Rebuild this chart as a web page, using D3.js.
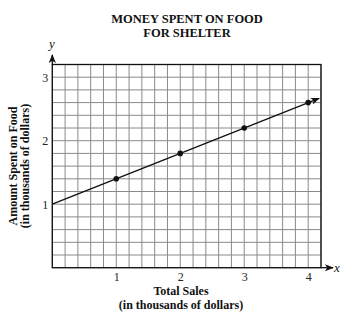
<!DOCTYPE html>
<html><head><meta charset="utf-8">
<script src="https://cdn.jsdelivr.net/npm/d3@7"></script>
<style>
html,body{margin:0;padding:0;background:#fff;}
svg{display:block;font-family:"Liberation Serif","Times New Roman",serif;}
</style>
</head><body>
<script>
const titleLines = ["MONEY SPENT ON FOOD", "FOR SHELTER"];
const xTitleLines = ["Total Sales", "(in thousands of dollars)"];
const yTitleLines = ["Amount Spent on Food", "(in thousands of dollars)"];
const xTicks = [1, 2, 3, 4];
const yTicks = [1, 2, 3];
const pointX = [1, 2, 3, 4];
const pointY = [1.4, 1.8, 2.2, 2.6];
const lineX = [0, 4.17];
const lineY = [1.0, 2.668];
const xMax = 4.2, yMax = 3.2, step = 0.2;

const W = 344, H = 312;
const svg = d3.select("body").append("svg").attr("width", W).attr("height", H);
const x = d3.scaleLinear().domain([0, xMax]).range([52.3, 321]);
const y = d3.scaleLinear().domain([0, yMax]).range([267.7, 64.5]);

// grid
const gx = d3.range(0, Math.round(xMax/step) + 1).map(i => i*step);
const gy = d3.range(0, Math.round(yMax/step) + 1).map(i => i*step);
svg.append("g").selectAll("line").data(gx).join("line")
  .attr("x1", d => x(d)).attr("x2", d => x(d))
  .attr("y1", y(0)).attr("y2", y(yMax))
  .attr("stroke", "#8a8a8a").attr("stroke-width", 1);
svg.append("g").selectAll("line").data(gy).join("line")
  .attr("y1", d => y(d)).attr("y2", d => y(d))
  .attr("x1", x(0)).attr("x2", x(xMax))
  .attr("stroke", "#8a8a8a").attr("stroke-width", 1);
svg.append("rect").attr("x", x(0)).attr("y", y(yMax))
  .attr("width", x(xMax) - x(0)).attr("height", y(0) - y(yMax))
  .attr("fill", "none").attr("stroke", "#111").attr("stroke-width", 1.3);

// arrows
const defs = svg.append("defs");
defs.append("marker").attr("id", "ah").attr("viewBox", "0 0 10 10")
  .attr("refX", 9).attr("refY", 5).attr("markerWidth", 9).attr("markerHeight", 9)
  .attr("markerUnits", "userSpaceOnUse").attr("orient", "auto")
  .append("path").attr("d", "M0,1 L10,5 L0,9 L2.5,5 Z").attr("fill", "#111");
svg.append("line").attr("x1", x(0)).attr("x2", x(0)).attr("y1", y(yMax)).attr("y2", 55)
  .attr("stroke", "#111").attr("stroke-width", 1.3).attr("marker-end", "url(#ah)");
svg.append("line").attr("x1", x(xMax)).attr("x2", 333).attr("y1", y(0)).attr("y2", y(0))
  .attr("stroke", "#111").attr("stroke-width", 1.3).attr("marker-end", "url(#ah)");
svg.append("text").attr("x", 52).attr("y", 48).attr("text-anchor", "middle")
  .attr("font-style", "italic").attr("font-size", 13).attr("fill", "#111").text("y");
svg.append("text").attr("x", 334).attr("y", 271.5)
  .attr("font-style", "italic").attr("font-size", 13).attr("fill", "#111").text("x");

// axes tick labels
const xa = svg.append("g").attr("transform", `translate(0,${y(0)})`)
  .call(d3.axisBottom(x).tickValues(xTicks).tickSize(0).tickPadding(5).tickFormat(d3.format("d")));
xa.select(".domain").remove();
xa.selectAll("text").attr("font-size", 12).attr("font-family", "Liberation Serif").attr("fill", "#222");
const ya = svg.append("g").attr("transform", `translate(${x(0)},0)`)
  .call(d3.axisLeft(y).tickValues(yTicks).tickSize(0).tickPadding(4).tickFormat(d3.format("d")));
ya.select(".domain").remove();
ya.selectAll("text").attr("font-size", 12).attr("font-family", "Liberation Serif").attr("fill", "#222");

// data line
svg.append("line")
  .attr("x1", x(lineX[0])).attr("y1", y(lineY[0]))
  .attr("x2", x(lineX[1])).attr("y2", y(lineY[1]))
  .attr("stroke", "#111").attr("stroke-width", 1.3).attr("marker-end", "url(#ah)");
svg.append("g").selectAll("circle").data(pointX).join("circle")
  .attr("cx", d => x(d)).attr("cy", (d, i) => y(pointY[i])).attr("r", 2.8).attr("fill", "#111");

// titles
svg.append("g").selectAll("text").data(titleLines).join("text")
  .attr("x", 187).attr("y", (d, i) => 22.7 + i*14.6).attr("text-anchor", "middle")
  .attr("font-weight", "bold").attr("font-size", 12.5).attr("fill", "#111").text(d => d);
svg.append("g").selectAll("text").data(xTitleLines).join("text")
  .attr("x", 181).attr("y", (d, i) => 295 + i*13.5).attr("text-anchor", "middle")
  .attr("font-weight", "bold").attr("font-size", 12).attr("fill", "#111").text(d => d);
svg.append("g").selectAll("text").data(yTitleLines).join("text")
  .attr("transform", (d, i) => `translate(${16.5 + i*12.5},166) rotate(-90)`)
  .attr("text-anchor", "middle")
  .attr("font-weight", "bold").attr("font-size", 12).attr("fill", "#111").text(d => d);
</script>
</body></html>
